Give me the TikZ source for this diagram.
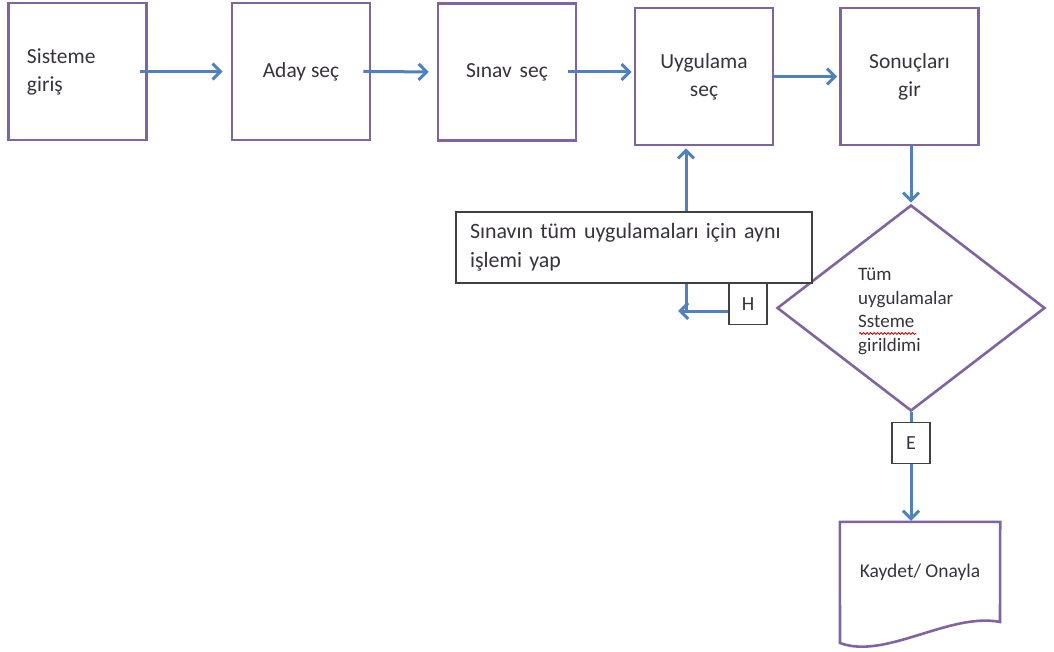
\documentclass[tikz,border=0pt]{standalone}
\usepackage{fontspec}
\setmainfont{Carlito}
\usetikzlibrary{arrows.meta,shapes.geometric,decorations.pathmorphing}
\definecolor{boxpurple}{RGB}{128,100,162}
\definecolor{arrblue}{RGB}{79,129,189}
\definecolor{txtgray}{RGB}{55,50,60}
\tikzset{
  box/.style={draw=boxpurple, line width=2.6pt, minimum width=138pt, minimum height=137pt,
    text=txtgray, font=\fontsize{21.5}{28}\selectfont, align=center},
  smallbox/.style={draw=black!75, line width=1.5pt, fill=white, minimum width=38pt,
    minimum height=41pt, text=txtgray, font=\fontsize{20}{24}\selectfont},
  arr/.style={draw=arrblue, line width=3pt, -{Straight Barb[length=8pt,width=16pt]}}
}
\begin{document}
\begin{tikzpicture}[x=1pt,y=-1pt]
  \useasboundingbox (0,0) rectangle (1054,652);
  % top row
  \node[box, text width=101pt, align=left] (giris) at (77.5,71.5) {Sisteme\\giriş};
  \node[box] (aday) at (301,71.5) {Aday seç};
  \node[box] (sinav) at (507,72) {Sınav\hspace{3pt} seç};
  \node[box] (uyg) at (704,76.5) {Uygulama\\seç};
  \node[box] (sonuc) at (909.5,76.5) {Sonuçları\\gir};
  \draw[arr, shorten <=-8pt, shorten >=8pt] (giris.east) -- (aday.west);
  \draw[arr, shorten <=-8pt, shorten >=8pt] (aday.east) -- (sinav.west);
  \draw[arr, shorten <=-9pt, shorten >=2pt] (sinav.east) -- (sinav.east -| uyg.west);
  \draw[arr, shorten >=2pt] (uyg.east) -- (sonuc.west);
  % decision
  \node[diamond, draw=boxpurple, line width=2.6pt, minimum width=268pt, minimum height=206pt,
    inner sep=0pt] (karar) at (911,308) {};
  \node[text=txtgray, font=\fontsize{19}{23.5}\selectfont, align=left, anchor=north west,
    inner sep=0pt] (kararyazi) at (858,268) {Tüm\\uygulamalar\\Ssteme\\girildimi};
  \draw[red!85!black, line width=0.8pt, decorate,
    decoration={snake, amplitude=0.9pt, segment length=3.5pt}] (859,333.5) -- (916,333.5);
  \draw[arr, shorten >=1pt] (sonuc.south -| karar.north) -- (karar.north);
  % loop back
  \node[draw=black!75, line width=1.5pt, fill=white, minimum width=356pt, minimum height=71pt,
    text width=328pt, inner xsep=14pt, align=left, text=txtgray, font=\fontsize{21.9}{29}\selectfont]
    (tekrar) at (634,247.5) {\makebox[312pt][s]{Sınavın tüm uygulamaları için aynı}\\işlemi yap};
  \node[smallbox] (hayir) at (748,304) {H};
  \coordinate (donus) at (686,311);
  \coordinate (ucu) at (678,311);
  \draw[arr] (hayir.west |- donus) -- (ucu);
  \draw[draw=arrblue, line width=3pt] (donus) -- (tekrar.south -| donus);
  \draw[arr, shorten >=2pt] (tekrar.north -| donus) -- (uyg.south -| donus);
  % yes branch
  \node[smallbox] (evet) at (911,443) {E};
  \draw[draw=arrblue, line width=3pt] (karar.south) -- (evet.north);
  \node[minimum width=160pt, minimum height=100pt, text=txtgray,
    font=\fontsize{19.5}{24}\selectfont] (kayit) at (920,572) {Kaydet/ Onayla};
  \draw[boxpurple, line width=2.6pt] (kayit.north west) -- (kayit.north east) -- (1000,622)
    .. controls (950,612) and (885,660) .. (840,643) -- cycle;
  \draw[arr, shorten >=1pt] (evet.south) -- (evet.south |- kayit.north);
\end{tikzpicture}
\end{document}
